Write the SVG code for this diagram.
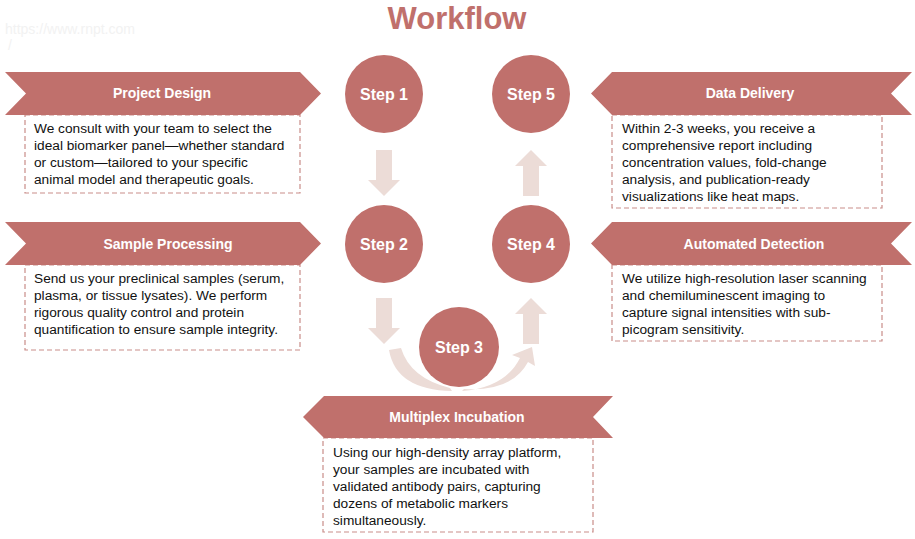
<svg xmlns="http://www.w3.org/2000/svg" width="915" height="539" viewBox="0 0 915 539">
<style>
.bn{fill:#c0706c}
.bt{font-family:"Liberation Sans",Arial,sans-serif;font-weight:bold;font-size:14px;fill:#fff;text-anchor:middle}
.bx{fill:#fff;stroke:#c98d89;stroke-width:1.2;stroke-dasharray:5,3}
.tx{font-family:"Liberation Sans",Arial,sans-serif;font-size:13.7px;fill:#111}
.ci{fill:#c0706c}
.ct{font-family:"Liberation Sans",Arial,sans-serif;font-weight:bold;font-size:16px;fill:#fff;text-anchor:middle}
.ar{fill:#ecdcd7}
</style>
<rect width="915" height="539" fill="#fff"/>
<text x="457" y="29" text-anchor="middle" font-family="Liberation Sans,Arial,sans-serif" font-weight="bold" font-size="31" fill="#c0706c">Workflow</text>
<text x="5" y="34" font-family="Liberation Sans,Arial,sans-serif" font-size="14" fill="#f2f2f2">https://www.rnpt.com</text>
<text x="8" y="50" font-family="Liberation Sans,Arial,sans-serif" font-size="14" fill="#f2f2f2">/</text>

<g id="connectors">
<path class="ar" d="M376,150 H392 V180 H400 L384,196 L368,180 H376 Z"/>
<path class="ar" d="M523,196 H539 V166 H547 L531,150 L515,166 H523 Z"/>
<path class="ar" d="M376,298 H392 V328 H400 L384,344 L368,328 H376 Z"/>
<path class="ar" d="M523,344 H539 V314 H547 L531,298 L515,314 H523 Z"/>
<path class="ar" d="M389,350 L401,348 Q410,378 450,388 L452,391 Q396,390 389,350 Z"/>
<path class="ar" d="M462,391 Q505,388 520,358 L512,355 L532,347 L535,366 L528,362 Q512,392 464,389 Z"/>
</g>

<g id="step1"><circle class="ci" cx="384" cy="94" r="39"/><text class="ct" x="384" y="100">Step 1</text></g>
<g id="step2"><circle class="ci" cx="384" cy="244" r="39"/><text class="ct" x="384" y="250">Step 2</text></g>
<g id="step3"><circle class="ci" cx="459" cy="347" r="40"/><text class="ct" x="459" y="353">Step 3</text></g>
<g id="step4"><circle class="ci" cx="531" cy="244" r="39"/><text class="ct" x="531" y="250">Step 4</text></g>
<g id="step5"><circle class="ci" cx="531" cy="94" r="39"/><text class="ct" x="531" y="100">Step 5</text></g>

<g id="project-design">
<rect class="bx" x="25" y="115" width="275" height="78"/>
<path class="bn" d="M5,72 H300 L321,93.5 L300,115 H5 L26,93.5 Z"/>
<text class="bt" x="162" y="98">Project Design</text>
<text class="tx"><tspan x="34" y="133">We consult with your team to select the</tspan><tspan x="34" y="150">ideal biomarker panel—whether standard</tspan><tspan x="34" y="167">or custom—tailored to your specific</tspan><tspan x="34" y="184">animal model and therapeutic goals.</tspan></text>
</g>

<g id="sample-processing">
<rect class="bx" x="25" y="265" width="275" height="85"/>
<path class="bn" d="M5,222 H300 L321,243.5 L300,265 H5 L26,243.5 Z"/>
<text class="bt" x="168" y="249">Sample Processing</text>
<text class="tx"><tspan x="34" y="283">Send us your preclinical samples (serum,</tspan><tspan x="34" y="300">plasma, or tissue lysates). We perform</tspan><tspan x="34" y="317">rigorous quality control and protein</tspan><tspan x="34" y="334">quantification to ensure sample integrity.</tspan></text>
</g>

<g id="data-delivery">
<rect class="bx" x="612" y="115" width="270" height="93"/>
<path class="bn" d="M612,72 H912 L891,93.5 L912,115 H612 L591,93.5 Z"/>
<text class="bt" x="750" y="98">Data Delivery</text>
<text class="tx"><tspan x="622" y="133">Within 2-3 weeks, you receive a</tspan><tspan x="622" y="150">comprehensive report including</tspan><tspan x="622" y="167">concentration values, fold-change</tspan><tspan x="622" y="184">analysis, and publication-ready</tspan><tspan x="622" y="201">visualizations like heat maps.</tspan></text>
</g>

<g id="automated-detection">
<rect class="bx" x="612" y="265" width="270" height="76"/>
<path class="bn" d="M612,222 H912 L891,243.5 L912,265 H612 L591,243.5 Z"/>
<text class="bt" x="754" y="249">Automated Detection</text>
<text class="tx"><tspan x="622" y="283">We utilize high-resolution laser scanning</tspan><tspan x="622" y="300">and chemiluminescent imaging to</tspan><tspan x="622" y="317">capture signal intensities with sub-</tspan><tspan x="622" y="334">picogram sensitivity.</tspan></text>
</g>

<g id="multiplex-incubation">
<rect class="bx" x="323" y="438" width="270" height="94"/>
<path class="bn" d="M324,396 H613 L593,417 L613,438 H324 L303,417 Z"/>
<text class="bt" x="457" y="422">Multiplex Incubation</text>
<text class="tx"><tspan x="333" y="457">Using our high-density array platform,</tspan><tspan x="333" y="474">your samples are incubated with</tspan><tspan x="333" y="491">validated antibody pairs, capturing</tspan><tspan x="333" y="508">dozens of metabolic markers</tspan><tspan x="333" y="525">simultaneously.</tspan></text>
</g>
</svg>
